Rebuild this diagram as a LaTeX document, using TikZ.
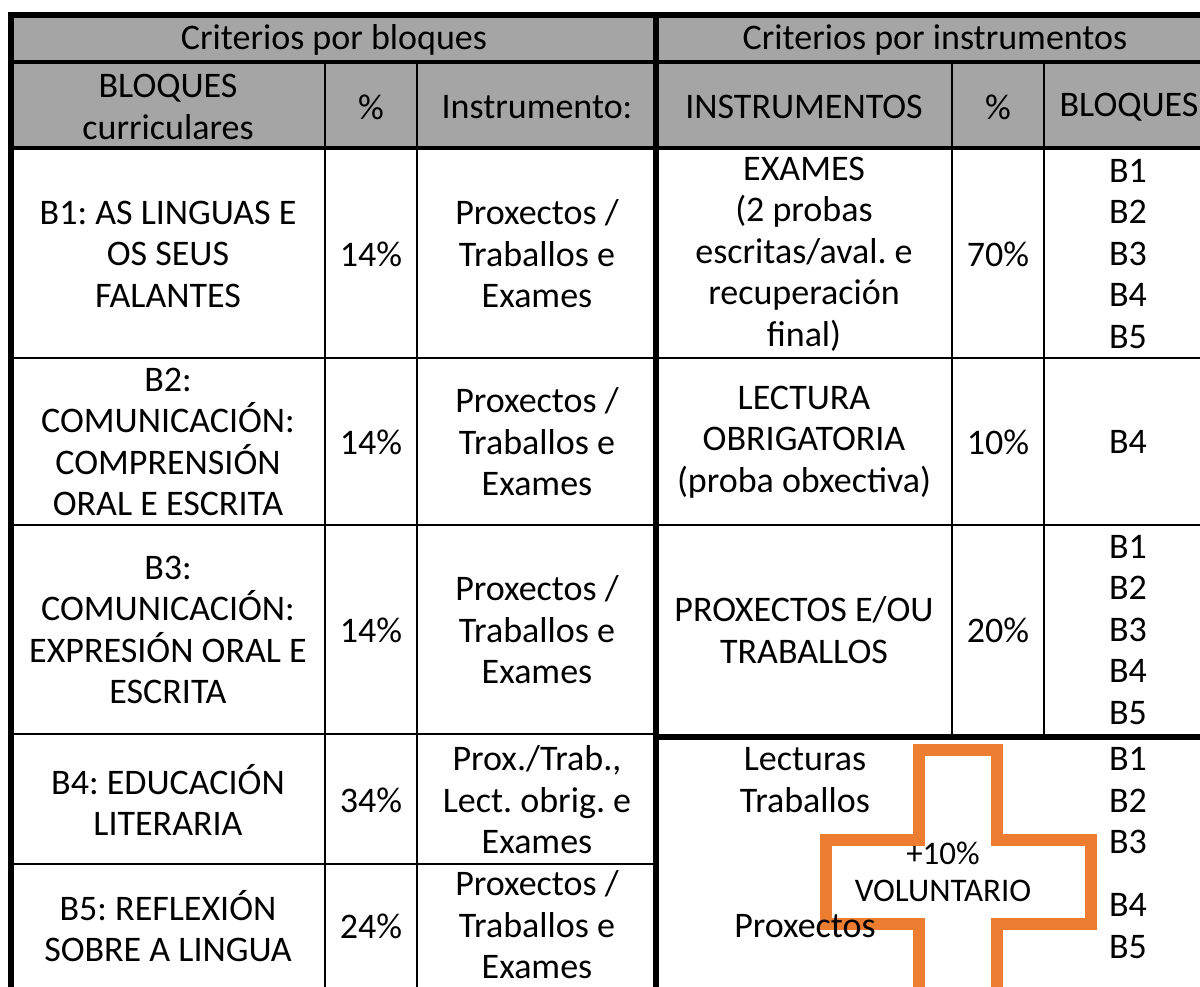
\documentclass[tikz,border=0pt]{standalone}
\usepackage{fontspec}
\setmainfont{Carlito}
\frenchspacing
\definecolor{hdrgray}{HTML}{A5A5A5}
\definecolor{crossorange}{HTML}{ED7D31}
\begin{document}
\begin{tikzpicture}[x=1pt,y=-1pt,
    cell/.style={align=center, inner sep=0pt, font=\fontsize{36}{41.5}\selectfont},
    small cell/.style={align=center, inner sep=0pt, font=\fontsize{33}{37}\selectfont},
    thin rule/.style={line width=2pt},
    mid rule/.style={line width=3.5pt},
    thick rule/.style={line width=5.5pt}]
  \useasboundingbox (0,0) rectangle (1200,987);
  \clip (0,0) rectangle (1200,987);

  % headers
  \fill[hdrgray] (11,15) rectangle (1214,148);

  % rules
  \draw[thin rule] (325,62) -- (325,990) (417,62) -- (417,990);
  \draw[thin rule] (952,62) -- (952,737) (1044,62) -- (1044,737);
  \draw[thin rule] (11,358) -- (1214,358) (11,525) -- (1214,525);
  \draw[thin rule] (11,734) -- (656,734) (11,864) -- (656,864);
  \draw[mid rule] (11,62) -- (1214,62) (11,148) -- (1214,148);
  \draw[thick rule] (656,737) -- (1214,737);
  \draw[thick rule] (8,15) -- (1214,15);
  \draw[thick rule] (11,15) -- (11,990) (656,15) -- (656,990);

  % voluntary cross
  \draw[crossorange, line width=12pt, line join=miter]
    (919,995) -- (919,924) -- (826,924) -- (826,840) -- (919,840) -- (919,750)
    -- (997,750) -- (997,840) -- (1091,840) -- (1091,924) -- (997,924) -- (997,995);

  % header texts
  \node[cell] (hdrL) at (334,40) {Criterios por bloques};
  \node[cell] (hdrR) at (935,40) {Criterios por instrumentos};
  \node[cell] (colBloq) at (168,107) {BLOQUES\\curriculares};
  \node[cell] (colPctL) at (371,107) {\%};
  \node[cell] (colInst) at (537,107) {Instrumento:};
  \node[cell] (colInsts) at (804,107) {INSTRUMENTOS};
  \node[cell] (colPctR) at (998,107) {\%};
  \node[cell] (colBloqs) at (1129,107) {BLOQUES};

  % criterios por bloques
  \node[cell] (b1) at (168,254) {B1: AS LINGUAS E\\OS SEUS\\FALANTES};
  \node[cell] (b1pct) at (371,254) {14\%};
  \node[cell] (b1inst) at (537,254) {Proxectos /\\Traballos e\\Exames};
  \node[cell] (b2) at (168,442) {B2:\\COMUNICACIÓN:\\COMPRENSIÓN\\ORAL E ESCRITA};
  \node[cell] (b2pct) at (371,442) {14\%};
  \node[cell] (b2inst) at (537,442) {Proxectos /\\Traballos e\\Exames};
  \node[cell] (b3) at (168,630) {B3:\\COMUNICACIÓN:\\EXPRESIÓN ORAL E\\ESCRITA};
  \node[cell] (b3pct) at (371,630) {14\%};
  \node[cell] (b3inst) at (537,630) {Proxectos /\\Traballos e\\Exames};
  \node[cell] (b4) at (168,800) {B4: EDUCACIÓN\\LITERARIA};
  \node[cell] (b4pct) at (371,800) {34\%};
  \node[cell] (b4inst) at (537,800) {Prox./Trab.,\\Lect. obrig. e\\Exames};
  \node[cell] (b5) at (168,926) {B5: REFLEXIÓN\\SOBRE A LINGUA};
  \node[cell] (b5pct) at (371,926) {24\%};
  \node[cell] (b5inst) at (537,925) {Proxectos /\\Traballos e\\Exames};

  % criterios por instrumentos
  \node[cell] (exames) at (804,254) {EXAMES\\(2 probas\\escritas/aval. e\\recuperación\\final)};
  \node[cell] (examesPct) at (998,254) {70\%};
  \node[cell] (examesBloq) at (1128,254) {B1\\B2\\B3\\B4\\B5};
  \node[cell] (lectura) at (804,442) {LECTURA\\OBRIGATORIA\\(proba obxectiva)};
  \node[cell] (lecturaPct) at (998,442) {10\%};
  \node[cell] (lecturaBloq) at (1128,442) {B4};
  \node[cell] (proxectos) at (804,630) {PROXECTOS E/OU\\TRABALLOS};
  \node[cell] (proxectosPct) at (998,630) {20\%};
  \node[cell] (proxectosBloq) at (1128,630) {B1\\B2\\B3\\B4\\B5};

  % voluntario
  \node[cell] (volLect) at (805,780) {Lecturas\\Traballos};
  \node[cell] (volProx) at (805,926) {Proxectos};
  \node[cell] (volBloqA) at (1128,801) {B1\\B2\\B3};
  \node[cell] (volBloqB) at (1128,926) {B4\\B5};
  \node[small cell] (volPct) at (943,872) {+10\%\\VOLUNTARIO};
\end{tikzpicture}
\end{document}
